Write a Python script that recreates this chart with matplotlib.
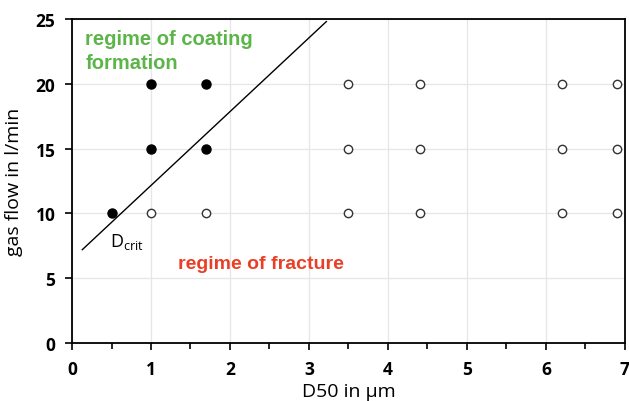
import matplotlib.pyplot as plt
from matplotlib.ticker import MultipleLocator

# coating formation (filled) and fracture (open) experiments
coat_d50 = [0.5, 1.0, 1.0, 1.7, 1.7]
coat_flow = [10, 15, 20, 15, 20]
frac_d50 = [1.0, 1.7, 3.5, 3.5, 3.5, 4.4, 4.4, 4.4, 6.2, 6.2, 6.2, 6.9, 6.9, 6.9]
frac_flow = [10, 10, 10, 15, 20, 10, 15, 20, 10, 15, 20, 10, 15, 20]

# critical diameter boundary line
dcrit_x = [0.13, 3.22]
dcrit_y = [7.2, 24.8]

x_ticks = [0, 1, 2, 3, 4, 5, 6, 7]
y_ticks = [0, 5, 10, 15, 20, 25]

plt.rcParams['font.family'] = ['Open Sans', 'DejaVu Sans']

fig = plt.figure(figsize=(6.29, 4.02), dpi=100)
ax = fig.add_axes([0.1145, 0.1443, 0.879, 0.806])

ax.set_xlim(0, 7)
ax.set_ylim(0, 25)
ax.set_xticks(x_ticks)
ax.set_yticks(y_ticks)
ax.xaxis.set_minor_locator(MultipleLocator(0.5))
ax.grid(True, which='major', color='#e6e6e6', linewidth=0.9)
ax.set_axisbelow(True)

for s in ax.spines.values():
    s.set_linewidth(1.3)
    s.set_color('black')

ax.tick_params(axis='both', which='major', length=5, width=1.2, labelsize=12.5, pad=7)
ax.tick_params(axis='x', which='minor', length=4, width=1.2)
for lab in ax.get_xticklabels() + ax.get_yticklabels():
    lab.set_fontweight('bold')

ax.plot(dcrit_x, dcrit_y, color='black', linewidth=1.0)
ax.plot(frac_d50, frac_flow, linestyle='none', marker='o', markersize=6,
        markerfacecolor='white', markeredgecolor='#333333', markeredgewidth=1.0)
ax.plot(coat_d50, coat_flow, linestyle='none', marker='o', markersize=6.5,
        color='black')

ax.text(0.17, 24.2, 'regime of coating\nformation', color='#5cb548',
        fontsize=14.5, fontweight='bold', family='Liberation Sans',
        va='top', ha='left', linespacing=1.3)
ax.text(1.34, 6.1, 'regime of fracture', color='#ea3f27',
        fontsize=14, fontweight='bold', family='Liberation Sans',
        va='center', ha='left')
ax.text(0.48, 7.9, r'D$_{\mathregular{crit}}$', color='black', fontsize=13,
        va='center', ha='left')

ax.set_xlabel('D50 in µm', fontsize=14, labelpad=3)
ax.set_ylabel('gas flow in l/min', fontsize=14, labelpad=9)

fig.savefig('out.png', dpi=100)
